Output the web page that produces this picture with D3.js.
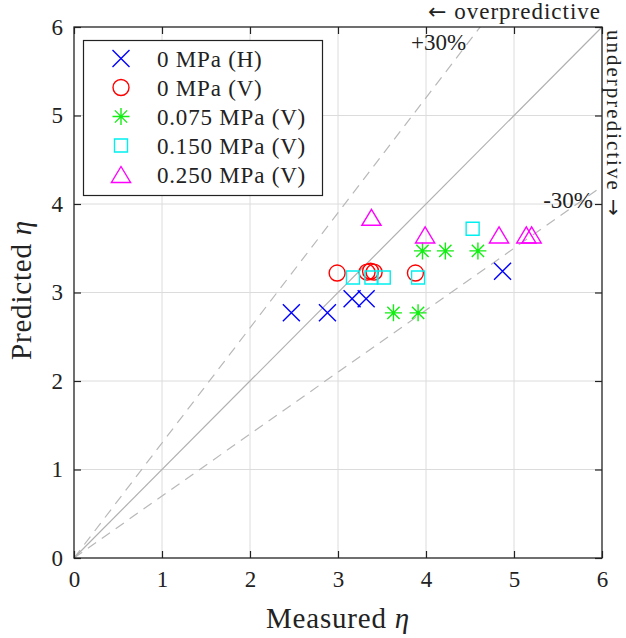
<!DOCTYPE html>
<html>
<head>
<meta charset="utf-8">
<script src="https://cdn.jsdelivr.net/npm/d3@7"></script>
<style>
body { margin:0; background:#fff; }
text { font-family: "Liberation Serif", "DejaVu Serif", serif; fill:#222; }
</style>
</head>
<body>
<script>
// series: measured eta vs predicted eta
var seriesNames = ["0 MPa (H)", "0 MPa (V)", "0.075 MPa (V)", "0.150 MPa (V)", "0.250 MPa (V)"];
var h0Measured   = [2.47, 2.88, 3.16, 3.32, 4.87];
var h0Predicted  = [2.77, 2.77, 2.93, 2.93, 3.24];
var v0Measured   = [2.99, 3.33, 3.37, 3.41, 3.88];
var v0Predicted  = [3.22, 3.23, 3.24, 3.23, 3.22];
var v075Measured = [3.63, 3.91, 3.96, 4.22, 4.59];
var v075Predicted= [2.77, 2.77, 3.47, 3.47, 3.47];
var v150Measured = [3.17, 3.38, 3.52, 3.91, 4.53];
var v150Predicted= [3.17, 3.17, 3.17, 3.17, 3.72];
var v250Measured = [3.38, 3.99, 4.83, 5.14, 5.20];
var v250Predicted= [3.85, 3.65, 3.65, 3.65, 3.65];
var tickValues = [0, 1, 2, 3, 4, 5, 6];
var bandFactors = [1.3, 0.7];

var w = 626, h = 638;
var svg = d3.select("body").append("svg").attr("width", w).attr("height", h);

var x = d3.scaleLinear().domain([0, 6]).range([74, 602]);
var y = d3.scaleLinear().domain([0, 6]).range([558, 27]);

// grid
svg.append("g").selectAll("line").data(tickValues.slice(1, 6)).enter().append("line")
	.attr("x1", function(d){ return x(d); }).attr("x2", function(d){ return x(d); })
	.attr("y1", y(0)).attr("y2", y(6))
	.attr("stroke", "#dcdcdc").attr("stroke-width", 1);
svg.append("g").selectAll("line").data(tickValues.slice(1, 6)).enter().append("line")
	.attr("y1", function(d){ return y(d); }).attr("y2", function(d){ return y(d); })
	.attr("x1", x(0)).attr("x2", x(6))
	.attr("stroke", "#dcdcdc").attr("stroke-width", 1);

// reference lines
svg.append("clipPath").attr("id", "plotclip").append("rect")
	.attr("x", x(0)).attr("y", y(6)).attr("width", x(6) - x(0)).attr("height", y(0) - y(6));

svg.append("line")
	.attr("x1", x(0)).attr("y1", y(0)).attr("x2", x(6)).attr("y2", y(6))
	.attr("stroke", "#b0b0b0").attr("stroke-width", 1.2);

svg.append("g").attr("clip-path", "url(#plotclip)").selectAll("line").data(bandFactors).enter().append("line")
	.attr("x1", x(0)).attr("y1", y(0))
	.attr("x2", x(6)).attr("y2", function(d){ return y(6 * d); })
	.attr("stroke", "#b8b8b8").attr("stroke-width", 1.2)
	.attr("stroke-dasharray", "10,7");

// axes (ticks inward on all sides)
var tk = 7, fmt = d3.format("d");
svg.append("g").attr("transform", "translate(0," + y(0) + ")")
	.call(d3.axisBottom(x).tickValues(tickValues).tickFormat(fmt).tickSizeInner(-tk).tickSizeOuter(0).tickPadding(13))
	.call(function(g){ g.select(".domain").remove(); g.selectAll("text").attr("font-size", 23).style("font-family", "Liberation Serif").attr("fill", "#222"); });
svg.append("g").attr("transform", "translate(0," + y(6) + ")")
	.call(d3.axisTop(x).tickValues(tickValues).tickSizeInner(-tk).tickSizeOuter(0).tickFormat(""))
	.call(function(g){ g.select(".domain").remove(); });
svg.append("g").attr("transform", "translate(" + x(0) + ",0)")
	.call(d3.axisLeft(y).tickValues(tickValues).tickFormat(fmt).tickSizeInner(-tk).tickSizeOuter(0).tickPadding(11))
	.call(function(g){ g.select(".domain").remove(); g.selectAll("text").attr("font-size", 23).style("font-family", "Liberation Serif").attr("fill", "#222"); });
svg.append("g").attr("transform", "translate(" + x(6) + ",0)")
	.call(d3.axisRight(y).tickValues(tickValues).tickSizeInner(-tk).tickSizeOuter(0).tickFormat(""))
	.call(function(g){ g.select(".domain").remove(); });
svg.selectAll(".tick line").attr("stroke", "#222").attr("stroke-width", 1.2);

svg.append("rect")
	.attr("x", x(0)).attr("y", y(6)).attr("width", x(6) - x(0)).attr("height", y(0) - y(6))
	.attr("fill", "none").attr("stroke", "#222").attr("stroke-width", 1.3);

// axis titles
svg.append("text").attr("x", (x(0) + x(6)) / 2).attr("y", 628).attr("text-anchor", "middle")
	.attr("font-size", 29).attr("letter-spacing", 0.8).html("Measured <tspan font-style='italic'>η</tspan>");
svg.append("text").attr("transform", "translate(31,290) rotate(-90)").attr("text-anchor", "middle")
	.attr("font-size", 29).attr("letter-spacing", 0.8).html("Predicted <tspan font-style='italic'>η</tspan>");

// annotations
svg.append("text").attr("x", 601).attr("y", 19).attr("text-anchor", "end").attr("font-size", 23).attr("letter-spacing", 1)
	.html("<tspan font-family='DejaVu Sans' font-size='22'>←</tspan> overpredictive");
svg.append("text").attr("transform", "translate(607,30) rotate(90)").attr("font-size", 21).attr("letter-spacing", 2)
	.html("underpredictive <tspan font-family='DejaVu Sans' font-size='20'>→</tspan>");
svg.append("text").attr("x", 411).attr("y", 50).attr("font-size", 23).text("+30%");
svg.append("text").attr("x", 593).attr("y", 208).attr("text-anchor", "end").attr("font-size", 23).text("-30%");

// markers
function markerPath(kind, s) {
	var r = s / 2;
	if (kind === "x") return "M" + -r + "," + -r + "L" + r + "," + r + "M" + -r + "," + r + "L" + r + "," + -r;
	if (kind === "star") {
		var a = r * 0.72;
		return "M0," + -r + "L0," + r + "M" + -r + ",0L" + r + ",0M" + -a + "," + -a + "L" + a + "," + a + "M" + -a + "," + a + "L" + a + "," + -a;
	}
	if (kind === "circle") return "M" + r + ",0A" + r + "," + r + " 0 1,1 " + -r + ",0A" + r + "," + r + " 0 1,1 " + r + ",0Z";
	if (kind === "square") return "M" + -r + "," + -r + "H" + r + "V" + r + "H" + -r + "Z";
	if (kind === "tri") return "M0," + -r + "L" + (r * 1.2) + "," + r + "L" + (-r * 1.2) + "," + r + "Z";
}

var series = [
	{ name: seriesNames[0], mx: h0Measured, py: h0Predicted, kind: "x", size: 17, color: "#0000ff" },
	{ name: seriesNames[1], mx: v0Measured, py: v0Predicted, kind: "circle", size: 16, color: "#ff0000" },
	{ name: seriesNames[2], mx: v075Measured, py: v075Predicted, kind: "star", size: 17, color: "#11ee11" },
	{ name: seriesNames[3], mx: v150Measured, py: v150Predicted, kind: "square", size: 13, color: "#00f0f0" },
	{ name: seriesNames[4], mx: v250Measured, py: v250Predicted, kind: "tri", size: 16, color: "#ff00ff" }
];

series.forEach(function(s) {
	svg.append("g").selectAll("path").data(s.mx).enter().append("path")
		.attr("transform", function(d, i){ return "translate(" + x(d) + "," + y(s.py[i]) + ")"; })
		.attr("d", markerPath(s.kind, s.size))
		.attr("fill", "none").attr("stroke", s.color).attr("stroke-width", 1.4);
});

// legend
var lg = svg.append("g");
lg.append("rect").attr("x", 83.5).attr("y", 40.5).attr("width", 239).attr("height", 155)
	.attr("fill", "#fff").attr("stroke", "#222").attr("stroke-width", 1.2);
var rows = lg.selectAll("g.row").data(series).enter().append("g")
	.attr("transform", function(d, i){ return "translate(0," + (58.5 + i * 29) + ")"; });
rows.append("path").attr("transform", "translate(121,0)")
	.attr("d", function(d){ return markerPath(d.kind, d.size); })
	.attr("fill", "none").attr("stroke", function(d){ return d.color; }).attr("stroke-width", 1.4);
rows.append("text").attr("x", 157).attr("y", 8).attr("font-size", 23).attr("letter-spacing", 0.8)
	.text(function(d){ return d.name; });
</script>
</body>
</html>
